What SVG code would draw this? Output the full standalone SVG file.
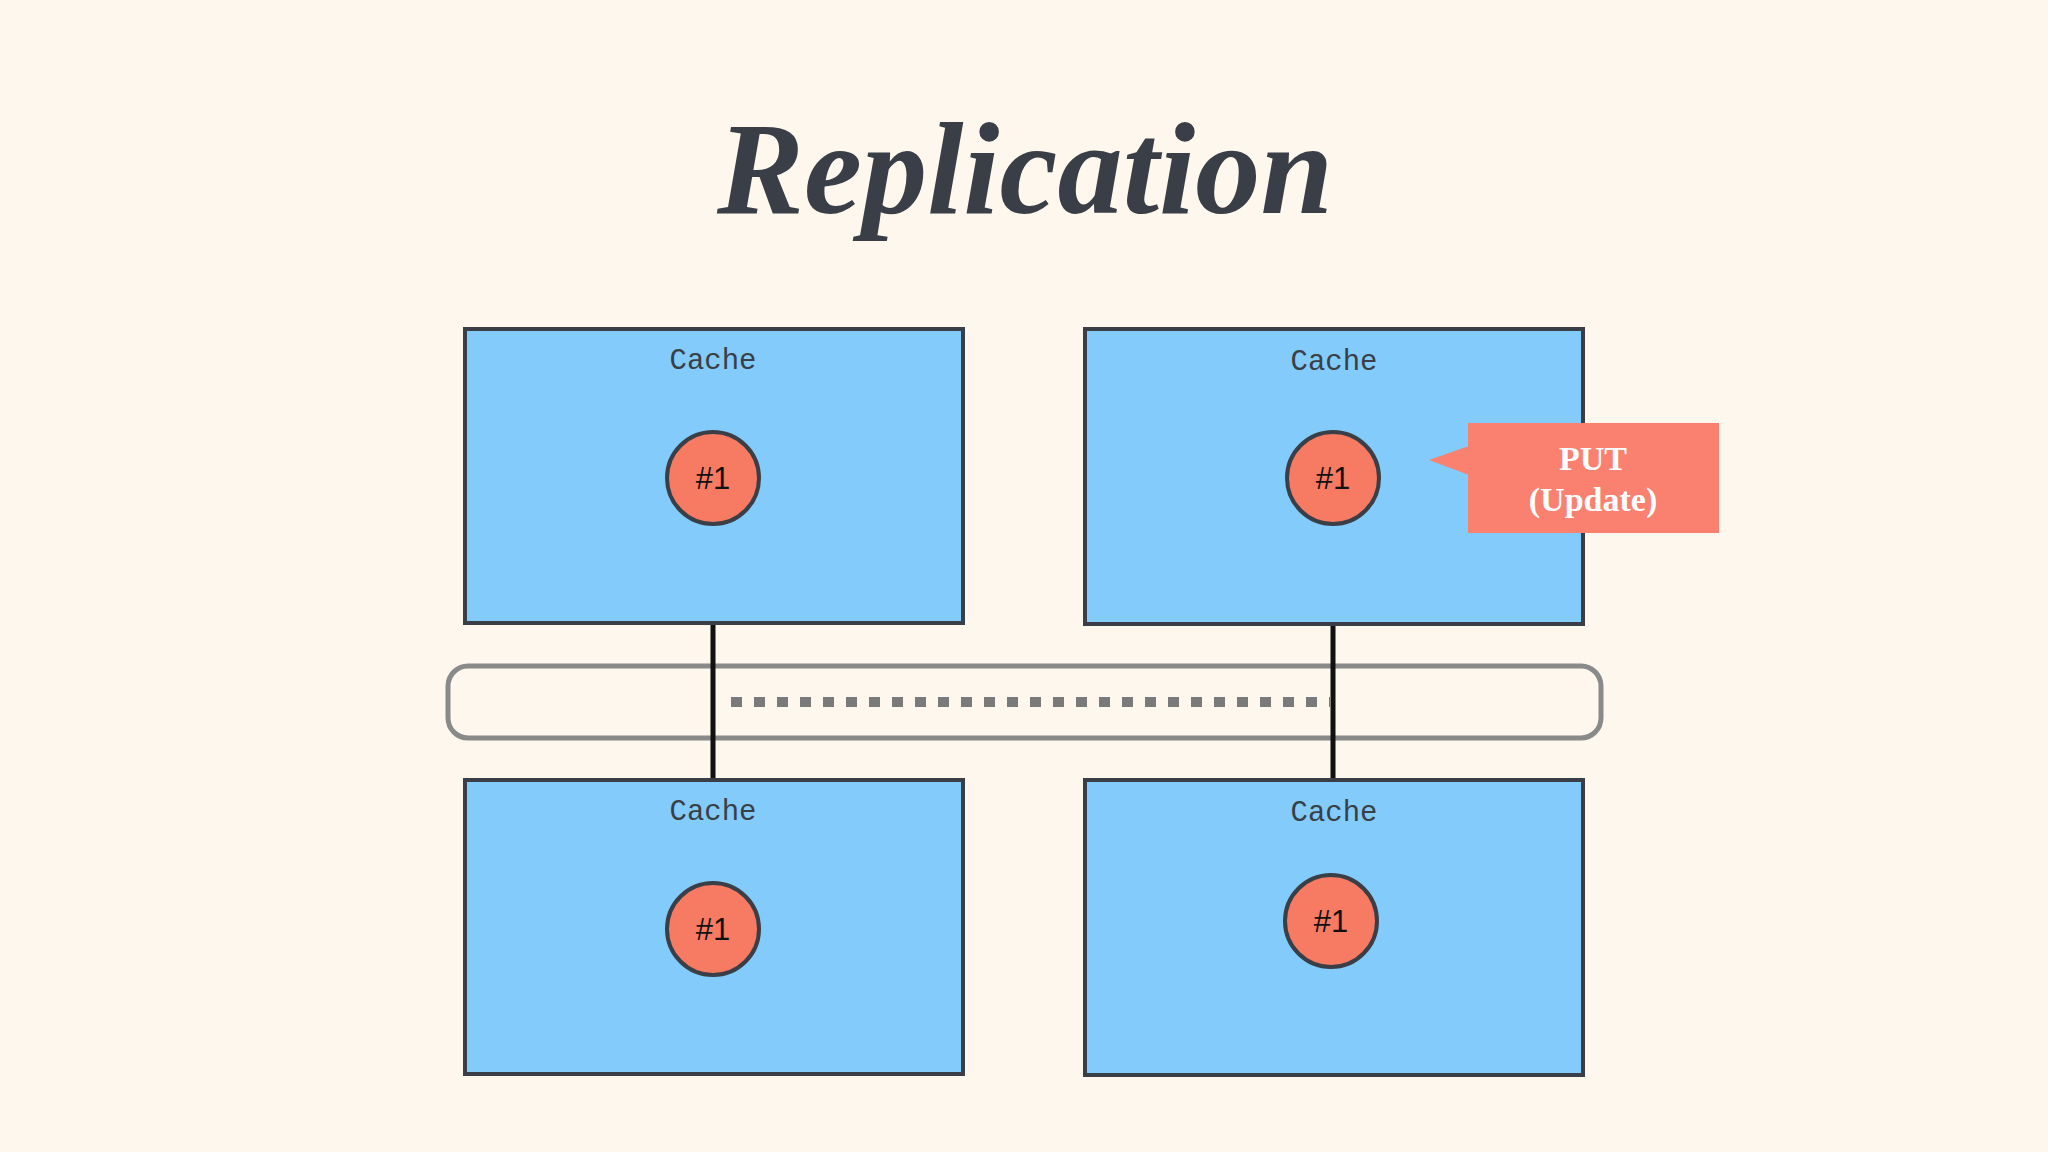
<svg xmlns="http://www.w3.org/2000/svg" width="2048" height="1152" viewBox="0 0 2048 1152">
<style>
.box{fill:#82cbfa;stroke:#3a3f47;stroke-width:4}
.lbl{font-family:"Liberation Mono",monospace;font-size:29px;fill:#3a3f47;text-anchor:middle}
.dot{fill:#f77a62;stroke:#3a3f47;stroke-width:4}
.num{font-family:"Liberation Sans",sans-serif;font-size:31px;fill:#111;text-anchor:middle}
.put{font-family:"Liberation Serif",serif;font-weight:bold;font-size:34px;fill:#fff;text-anchor:middle}
</style>
<rect width="2048" height="1152" fill="#fdf7ee"/>
<text x="1025" y="213" font-family="'Liberation Serif',serif" font-weight="bold" font-style="italic" font-size="132" fill="#3a3f47" text-anchor="middle" textLength="616" lengthAdjust="spacingAndGlyphs">Replication</text>
<g id="network">
<rect x="448" y="666" width="1153" height="72" rx="20" fill="none" stroke="#8a8a8a" stroke-width="5"/>
</g>
<g id="connectors">
<line x1="731" y1="702" x2="1330" y2="702" stroke="#7a7a7a" stroke-width="10" stroke-dasharray="11,12"/>
<line x1="713" y1="623" x2="713" y2="780" stroke="#111" stroke-width="5"/>
<line x1="1333" y1="624" x2="1333" y2="780" stroke="#111" stroke-width="5"/>
</g>
<g id="cache-tl"><rect class="box" x="465" y="329" width="498" height="294"/><text class="lbl" x="713" y="369">Cache</text><circle class="dot" cx="713" cy="478" r="46"/><text class="num" x="713" y="489">#1</text></g>
<g id="cache-tr"><rect class="box" x="1085" y="329" width="498" height="295"/><text class="lbl" x="1334" y="370">Cache</text><circle class="dot" cx="1333" cy="478" r="46"/><text class="num" x="1333" y="489">#1</text></g>
<g id="cache-bl"><rect class="box" x="465" y="780" width="498" height="294"/><text class="lbl" x="713" y="820">Cache</text><circle class="dot" cx="713" cy="929" r="46"/><text class="num" x="713" y="940">#1</text></g>
<g id="cache-br"><rect class="box" x="1085" y="780" width="498" height="295"/><text class="lbl" x="1334" y="821">Cache</text><circle class="dot" cx="1331" cy="921" r="46"/><text class="num" x="1331" y="932">#1</text></g>
<g id="callout">
<polygon points="1429,460 1469,446 1469,475" fill="#fa8170"/>
<rect x="1468" y="423" width="251" height="110" fill="#fa8170"/>
<text class="put" x="1593" y="470">PUT</text>
<text class="put" x="1593" y="511">(Update)</text>
</g>
</svg>
